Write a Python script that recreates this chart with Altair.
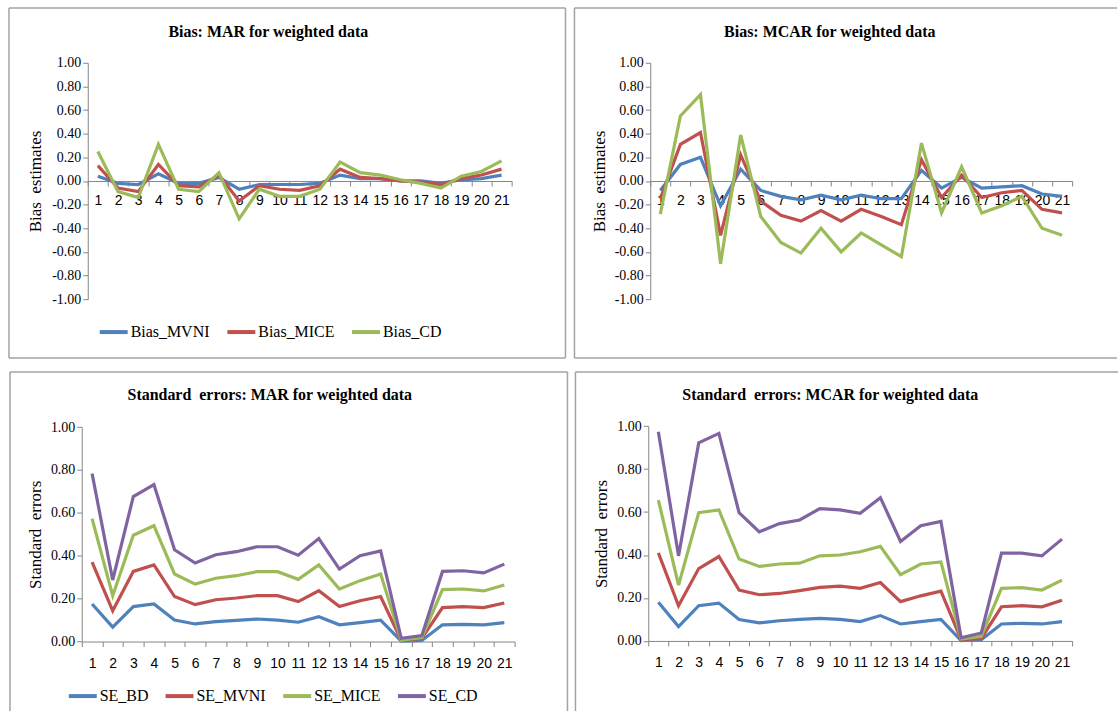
import altair as alt
import pandas as pd

# Item numbers on the horizontal axis
items = list(range(1, 22))

# Bias estimates, MAR
mar_bias_mvni = [0.04, -0.02, -0.03, 0.06, -0.02, -0.02, 0.03, -0.07, -0.03, -0.03, -0.03,
                 -0.02, 0.05, 0.02, 0.02, 0.00, 0.00, -0.02, 0.01, 0.02, 0.05]
mar_bias_mice = [0.13, -0.06, -0.09, 0.14, -0.04, -0.05, 0.05, -0.17, -0.04, -0.07, -0.08,
                 -0.04, 0.10, 0.03, 0.02, 0.00, -0.01, -0.03, 0.02, 0.05, 0.10]
mar_bias_cd = [0.25, -0.09, -0.14, 0.31, -0.07, -0.09, 0.07, -0.32, -0.07, -0.13, -0.13,
               -0.07, 0.16, 0.07, 0.05, 0.01, -0.02, -0.06, 0.04, 0.08, 0.17]

# Bias estimates, MCAR
mcar_bias_mvni = [-0.08, 0.14, 0.20, -0.21, 0.10, -0.08, -0.13, -0.16, -0.12, -0.16, -0.12,
                  -0.15, -0.15, 0.09, -0.06, 0.03, -0.06, -0.05, -0.04, -0.11, -0.13]
mcar_bias_mice = [-0.15, 0.31, 0.41, -0.46, 0.22, -0.17, -0.29, -0.34, -0.25, -0.34, -0.24,
                  -0.30, -0.37, 0.18, -0.14, 0.05, -0.14, -0.10, -0.08, -0.24, -0.27]
mcar_bias_cd = [-0.28, 0.55, 0.73, -0.70, 0.39, -0.30, -0.52, -0.61, -0.40, -0.60, -0.44,
                -0.54, -0.64, 0.32, -0.27, 0.12, -0.27, -0.21, -0.13, -0.40, -0.46]

# Standard errors, MAR
mar_se_bd = [0.175, 0.067, 0.163, 0.175, 0.100, 0.082, 0.093, 0.099, 0.105, 0.100, 0.090,
             0.116, 0.078, 0.088, 0.100, 0.002, 0.005, 0.078, 0.080, 0.078, 0.088]
mar_se_mvni = [0.370, 0.144, 0.327, 0.357, 0.210, 0.172, 0.195, 0.203, 0.214, 0.214, 0.186,
               0.237, 0.163, 0.190, 0.210, 0.005, 0.015, 0.158, 0.163, 0.158, 0.180]
mar_se_mice = [0.573, 0.214, 0.496, 0.540, 0.315, 0.268, 0.295, 0.307, 0.326, 0.326, 0.290,
               0.357, 0.245, 0.284, 0.315, 0.006, 0.019, 0.242, 0.245, 0.236, 0.264]
mar_se_cd = [0.783, 0.287, 0.676, 0.732, 0.428, 0.366, 0.405, 0.419, 0.442, 0.442, 0.403,
             0.480, 0.338, 0.400, 0.423, 0.015, 0.028, 0.327, 0.330, 0.320, 0.361]

# Standard errors, MCAR
mcar_se_bd = [0.180, 0.067, 0.164, 0.176, 0.100, 0.084, 0.094, 0.100, 0.105, 0.100, 0.090,
              0.118, 0.079, 0.090, 0.100, 0.002, 0.006, 0.079, 0.082, 0.079, 0.090]
mcar_se_mvni = [0.410, 0.164, 0.337, 0.393, 0.237, 0.215, 0.221, 0.234, 0.249, 0.255, 0.245,
                0.272, 0.183, 0.210, 0.232, 0.006, 0.012, 0.159, 0.164, 0.159, 0.189]
mcar_se_mice = [0.656, 0.260, 0.597, 0.610, 0.381, 0.347, 0.358, 0.362, 0.396, 0.400, 0.415,
                0.440, 0.308, 0.358, 0.368, 0.009, 0.022, 0.245, 0.248, 0.237, 0.283]
mcar_se_cd = [0.974, 0.396, 0.922, 0.966, 0.597, 0.508, 0.546, 0.563, 0.616, 0.610, 0.594,
              0.667, 0.463, 0.536, 0.556, 0.015, 0.037, 0.409, 0.409, 0.396, 0.474]

bias_names = ["Bias_MVNI", "Bias_MICE", "Bias_CD"]
se_names = ["SE_BD", "SE_MVNI", "SE_MICE", "SE_CD"]
bias_colors = ["#4F81BD", "#C0504D", "#9BBB59"]
se_colors = ["#4F81BD", "#C0504D", "#9BBB59", "#8064A2"]

SERIF = "Liberation Serif"
SANS = "Liberation Sans"
AXIS_GREY = "#868686"
FRAME_GREY = "#a3a3a3"


def long_table(names, series):
    rows = []
    for name, vals in zip(names, series):
        for i, v in zip(items, vals):
            rows.append({"item": i, "value": v, "series": name})
    return pd.DataFrame(rows)


def frame_rules(g):
    """Grey outline of a panel; only the sides listed in g['sides'] are drawn."""
    W, H, x0 = g["W"], g["H"], g.get("fx", 0)
    one = alt.Data(values=[{}])
    specs = {
        "left": dict(x=alt.value(x0), y=alt.value(0), y2=alt.value(H)),
        "right": dict(x=alt.value(W), y=alt.value(0), y2=alt.value(H)),
        "top": dict(x=alt.value(x0), x2=alt.value(W), y=alt.value(0)),
        "bottom": dict(x=alt.value(x0), x2=alt.value(W), y=alt.value(H)),
    }
    return [alt.Chart(one).mark_rule(color=FRAME_GREY, strokeWidth=1.5).encode(**specs[s])
            for s in g["sides"]]


def panel(names, series, colors, title, ytitle, ymin, g):
    df = long_table(names, series)
    x0, x1 = g["xr"]
    ybot, ytop = g["yr"]
    cat_w = (x1 - x0) / len(items)
    yvals = [round(ymin + 0.2 * k, 2) for k in range(int(round((1 - ymin) / 0.2)) + 1)]

    x_axis = alt.Axis(
        values=[i - 0.5 for i in items] + [items[-1] + 0.5],
        labelExpr="datum.value < 21 ? '' + (datum.value + 0.5) : ''",
        labelOffset=cat_w / 2,
        labelFlush=False, labelOverlap=False, labelBound=False,
        labelFont=SANS, labelFontSize=14, labelColor="#000000",
        labelPadding=g["xlabpad"],
        tickSize=5, tickColor=AXIS_GREY, domainColor=AXIS_GREY, domainWidth=1,
        grid=False, title=None, offset=g["xoff"],
    )
    y_axis = alt.Axis(
        values=yvals,
        labelExpr="(datum.value < -0.001 ? '-' : '') + format(abs(datum.value), '.2f')",
        labelFont=SERIF, labelFontSize=14, labelColor="#000000", labelPadding=2,
        tickSize=5, tickColor=AXIS_GREY, domainColor=AXIS_GREY, domainWidth=1,
        grid=False, offset=-x0,
        title=ytitle, titleFont=SERIF, titleFontSize=17, titleFontWeight="normal",
        titleColor="#000000", titleAngle=270, titleAlign="center", titleBaseline="middle",
        titleX=g["ytx"], titleY=(ybot + ytop) / 2,
    )
    lines = alt.Chart(df).mark_line(strokeWidth=3.2).encode(
        x=alt.X("item:Q", scale=alt.Scale(domain=[0.5, 21.5], range=[x0, x1], nice=False, zero=False),
                axis=x_axis),
        y=alt.Y("value:Q", scale=alt.Scale(domain=[ymin, 1.0], range=[ybot, ytop], nice=False, zero=False),
                axis=y_axis),
        color=alt.Color("series:N", sort=names,
                        scale=alt.Scale(domain=names, range=colors),
                        legend=alt.Legend(orient="none", legendX=g["lx"], legendY=g["ly"],
                                          direction="horizontal", title=None,
                                          symbolType="stroke", symbolStrokeWidth=4, symbolSize=784,
                                          labelFont=SERIF, labelFontSize=16, labelColor="#000000",
                                          labelOffset=1, columnPadding=9)),
        detail="series:N",
    )
    return alt.layer(*frame_rules(g), lines).properties(
        width=g["W"], height=g["H"],
        title=alt.TitleParams(title, anchor="start", align="center", dx=g["tx"], frame="group",
                              offset=g["toff"], font=SERIF, fontSize=16, fontWeight="bold",
                              color="#000000"),
    )


tl = panel(bias_names, [mar_bias_mvni, mar_bias_mice, mar_bias_cd], bias_colors,
           "Bias: MAR for weighted data", "Bias\u00a0 estimates", -1.0,
           dict(W=558, H=351, xr=(79, 504), yr=(292, 55), xoff=-(351 - 173.5), xlabpad=8,
                ytx=-52, tx=260, toff=-33, lx=89, ly=309, sides=["left", "right", "top", "bottom"]))
tr = panel(bias_names, [mcar_bias_mvni, mcar_bias_mice, mcar_bias_cd], bias_colors,
           "Bias: MCAR for weighted data", "Bias\u00a0 estimates", -1.0,
           dict(W=544, H=351, xr=(76, 499), yr=(292, 55), xoff=-(351 - 173.5), xlabpad=8,
                ytx=-51, tx=256, toff=-33, lx=84, ly=309, sides=["left", "top", "bottom"]))
bl = panel(se_names, [mar_se_bd, mar_se_mvni, mar_se_mice, mar_se_cd], se_colors,
           "Standard\u00a0 errors: MAR for weighted data", "Standard\u00a0 errors", 0.0,
           dict(W=560, H=340, fx=1, xr=(73, 507), yr=(270.3, 55.3), xoff=-(340 - 270.3), xlabpad=10,
                ytx=-46, tx=261.5, toff=-32, lx=58, ly=309, sides=["left", "right", "top"]))
br = panel(se_names, [mcar_se_bd, mcar_se_mvni, mcar_se_mice, mcar_se_cd], se_colors,
           "Standard\u00a0 errors: MCAR for weighted data", "Standard\u00a0 errors", 0.0,
           dict(W=544, H=340, xr=(73, 498), yr=(269.7, 54.3), xoff=-(340 - 269.7), xlabpad=10,
                ytx=-47, tx=255.5, toff=-32, lx=52, ly=308, sides=["left", "top"]))

chart = alt.vconcat(
    alt.hconcat(tl, tr, spacing=7),
    alt.hconcat(bl, br, spacing=6),
    spacing=12,
).resolve_scale(color="independent").properties(
    padding={"left": 8, "top": 6, "right": 0, "bottom": 0},
    autosize=alt.AutoSizeParams(type="pad"),
    background="white",
).configure_view(stroke=None)

chart.save("out.html", embed_options={"renderer": "svg", "actions": False})
